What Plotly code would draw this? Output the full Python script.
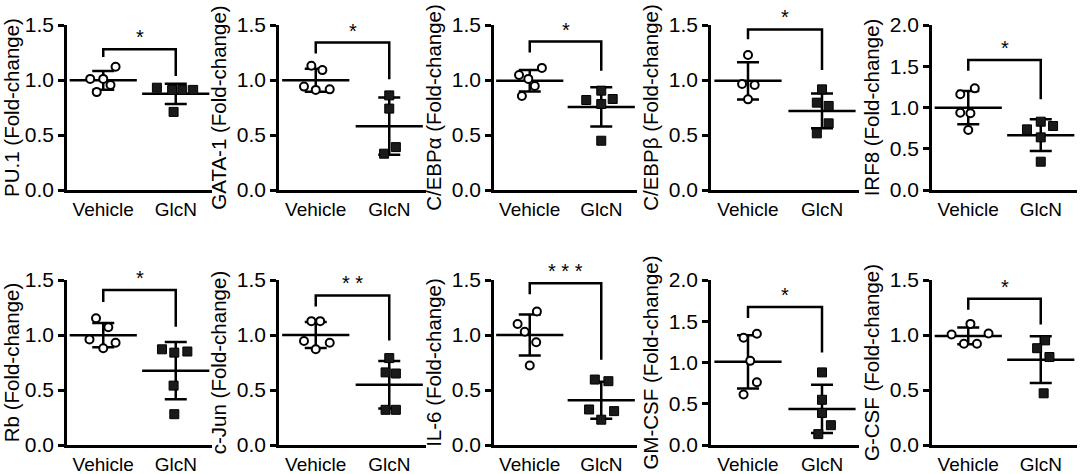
import numpy as np
import plotly.graph_objects as go

# ---------------- data ----------------
groups = ["Vehicle", "GlcN"]
genes = ["PU.1", "GATA-1", "C/EBPα", "C/EBPβ", "IRF8",
         "Rb", "c-Jun", "IL-6", "GM-CSF", "G-CSF"]

pu1_vehicle = [1.12, 1.01, 1.01, 0.955, 0.89]
pu1_glcn = [0.93, 0.91, 0.91, 0.91, 0.71]
gata1_vehicle = [1.13, 1.09, 0.94, 0.91, 0.915]
gata1_glcn = [0.86, 0.74, 0.39, 0.33]
cebpa_vehicle = [1.11, 1.045, 1.01, 0.945, 0.855]
cebpa_glcn = [0.903, 0.818, 0.782, 0.827, 0.448]
cebpb_vehicle = [1.227, 0.964, 0.955, 0.824]
cebpb_glcn = [0.915, 0.794, 0.764, 0.606, 0.515]
irf8_vehicle = [1.232, 1.16, 0.937, 0.93, 0.727]
irf8_glcn = [0.828, 0.735, 0.776, 0.638, 0.343]
rb_vehicle = [1.152, 1.07, 0.96, 0.93, 0.88]
rb_glcn = [0.87, 0.84, 0.85, 0.54, 0.28]
cjun_vehicle = [1.126, 1.126, 0.946, 0.871, 0.93]
cjun_glcn = [0.79, 0.66, 0.65, 0.32, 0.32]
il6_vehicle = [1.214, 1.1, 1.03, 0.934, 0.722]
il6_glcn = [0.595, 0.58, 0.323, 0.308, 0.23]
gmcsf_vehicle = [1.348, 1.3, 1.02, 0.76, 0.612]
gmcsf_glcn = [0.88, 0.548, 0.388, 0.24, 0.132]
gcsf_vehicle = [1.101, 1.005, 1.014, 0.92, 0.92]
gcsf_glcn = [0.951, 0.88, 0.80, 0.47]

significance = ["*", "*", "*", "*", "*", "*", "**", "***", "*", "*"]
y_axis_max = [1.5, 1.5, 1.5, 1.5, 2.0, 1.5, 1.5, 1.5, 2.0, 1.5]

vehicle_sets = [pu1_vehicle, gata1_vehicle, cebpa_vehicle, cebpb_vehicle, irf8_vehicle,
                rb_vehicle, cjun_vehicle, il6_vehicle, gmcsf_vehicle, gcsf_vehicle]
glcn_sets = [pu1_glcn, gata1_glcn, cebpa_glcn, cebpb_glcn, irf8_glcn,
             rb_glcn, cjun_glcn, il6_glcn, gmcsf_glcn, gcsf_glcn]

# ---------------- layout / style ----------------
# horizontal scatter offsets of points (layout only)
vehicle_jitter = [[0.17, -0.18, 0.0, 0.1, -0.09],
                  [-0.06, 0.09, -0.16, 0.0, 0.19],
                  [0.17, -0.15, -0.02, 0.07, -0.11],
                  [0.0, -0.08, 0.09, 0.0],
                  [0.09, -0.11, -0.11, 0.03, 0.0],
                  [-0.1, 0.07, -0.19, 0.17, 0.0],
                  [-0.06, 0.06, -0.16, 0.0, 0.19],
                  [0.1, -0.17, -0.07, 0.09, 0.0],
                  [0.12, -0.06, 0.03, 0.12, -0.06],
                  [0.03, -0.23, 0.28, -0.06, 0.12]]
glcn_jitter = [[-0.26, -0.05, 0.09, 0.24, -0.03],
               [0.0, 0.0, 0.09, -0.07],
               [0.0, -0.21, 0.0, 0.16, 0.0],
               [0.0, -0.07, 0.09, 0.09, -0.07],
               [0.0, -0.19, 0.17, 0.0, 0.0],
               [-0.19, -0.02, 0.16, -0.03, -0.02],
               [0.0, -0.05, 0.09, -0.05, 0.09],
               [-0.09, 0.1, -0.17, 0.18, 0.0],
               [0.0, 0.0, 0.0, 0.12, -0.05],
               [0.06, -0.05, 0.12, 0.04]]

# significance bracket geometry (y levels, in data units)
bracket_top = [1.28, 1.34, 1.35, 1.46, 1.576, 1.41, 1.36, 1.47, 1.672, 1.33]
bracket_left_end = [1.21, 1.24, 1.25, 1.37, 1.446, 1.30, 1.26, 1.37, 1.54, 1.23]
bracket_right_end = [1.036, 1.006, 1.085, 1.09, 1.10, 1.076, 0.95, 0.776, 1.12, 1.095]

W, H = 1084, 474
col_px = [(67, 212), (279, 426), (494, 637), (711, 859), (932, 1077)]
row_px = [(25, 190), (280, 445)]
FONT = "Liberation Sans, Arial, sans-serif"
LW = 2.5

fig = go.Figure()
layout = dict(width=W, height=H,
              margin=dict(l=0, r=0, t=0, b=0, pad=0, autoexpand=False),
              paper_bgcolor="white", plot_bgcolor="white", showlegend=False,
              font=dict(family=FONT, color="black", size=19))
annotations = []

for i, gene in enumerate(genes):
    r, c = divmod(i, 5)
    n = i + 1
    xa = "x" if n == 1 else f"x{n}"
    ya = "y" if n == 1 else f"y{n}"
    x0, x1 = col_px[c]
    y0, y1 = row_px[r]
    layout[f"xaxis{'' if n == 1 else n}"] = dict(
        domain=[x0 / W, x1 / W], anchor=ya, range=[-0.5, 1.5], automargin=False,
        tickmode="array", tickvals=[0, 1], ticktext=groups,
        showline=True, linewidth=LW, linecolor="black", ticks="",
        showgrid=False, zeroline=False, tickfont=dict(size=19, family=FONT))
    layout[f"yaxis{'' if n == 1 else n}"] = dict(
        domain=[1 - y1 / H, 1 - y0 / H], anchor=xa, range=[0, y_axis_max[i]],
        automargin=False,
        dtick=0.5, tickformat=".1f", showline=True, linewidth=LW, linecolor="black",
        ticks="outside", ticklen=6, tickwidth=LW, tickcolor="black",
        showgrid=False, zeroline=False, tickfont=dict(size=21, family=FONT),
        title=dict(text=f"{gene} (Fold-change)", font=dict(size=20.5, family=FONT),
                   standoff=5))

    sets = [vehicle_sets[i], glcn_sets[i]]
    # mean line + SD
    for gi, vals in enumerate(sets):
        m = float(np.mean(vals))
        s = float(np.std(vals, ddof=1))
        fig.add_trace(go.Scatter(
            x=[gi], y=[m], xaxis=xa, yaxis=ya, mode="markers",
            marker=dict(symbol="line-ew", size=48, color="black",
                        line=dict(width=LW, color="black")),
            error_y=dict(type="data", array=[s], visible=True, width=11,
                         thickness=LW, color="black"),
            hoverinfo="skip"))
    # bracket
    fig.add_trace(go.Scatter(
        x=[0, 0, 1, 1],
        y=[bracket_left_end[i], bracket_top[i], bracket_top[i], bracket_right_end[i]],
        xaxis=xa, yaxis=ya, mode="lines", line=dict(color="black", width=LW),
        cliponaxis=False, hoverinfo="skip"))
    annotations.append(dict(x=0.5, y=bracket_top[i], xref=xa, yref=ya,
                            text=" ".join(significance[i]), showarrow=False,
                            yanchor="middle", yshift=12,
                            font=dict(size=20, family=FONT, color="black")))
    # points
    fig.add_trace(go.Scatter(
        x=[0 + d for d in vehicle_jitter[i]], y=sets[0], xaxis=xa, yaxis=ya,
        mode="markers", cliponaxis=False,
        marker=dict(symbol="circle", size=8, color="white",
                    line=dict(width=2, color="black"))))
    fig.add_trace(go.Scatter(
        x=[1 + d for d in glcn_jitter[i]], y=sets[1], xaxis=xa, yaxis=ya,
        mode="markers", cliponaxis=False,
        marker=dict(symbol="square", size=9, color="#1a1a1a",
                    line=dict(width=1, color="black"))))

layout["annotations"] = annotations
fig.update_layout(**layout)
fig.write_html("out.html", config={"displayModeBar": False},
               post_script="document.body.style.margin='0';document.body.style.overflow='hidden';")
